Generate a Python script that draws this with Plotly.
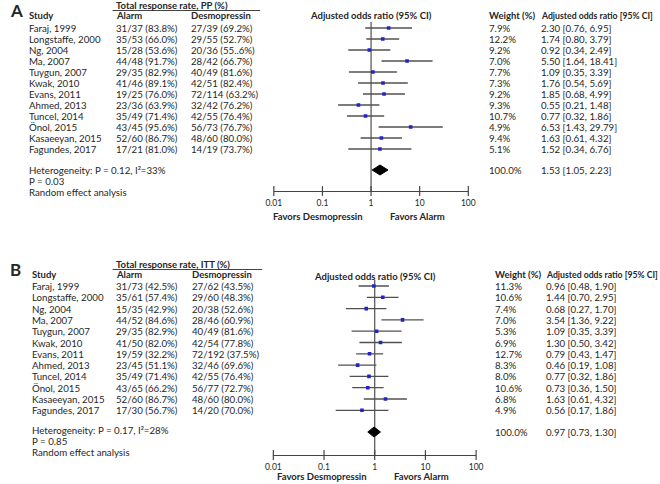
import plotly.graph_objects as go

# ---------------- data ----------------
studies = ["Faraj, 1999", "Longstaffe, 2000", "Ng, 2004", "Ma, 2007", "Tuygun, 2007",
           "Kwak, 2010", "Evans, 2011", "Ahmed, 2013", "Tuncel, 2014", "Önol, 2015",
           "Kasaeeyan, 2015", "Fagundes, 2017"]

pp_alarm = ["31/37 (83.8%)", "35/53 (66.0%)", "15/28 (53.6%)", "44/48 (91.7%)", "29/35 (82.9%)",
            "41/46 (89.1%)", "19/25 (76.0%)", "23/36 (63.9%)", "35/49 (71.4%)", "43/45 (95.6%)",
            "52/60 (86.7%)", "17/21 (81.0%)"]
pp_desmo = ["27/39 (69.2%)", "29/55 (52.7%)", "20/36 (55..6%)", "28/42 (66.7%)", "40/49 (81.6%)",
            "42/51 (82.4%)", "72/114 (63.2%)", "32/42 (76.2%)", "42/55 (76.4%)", "56/73 (76.7%)",
            "48/60 (80.0%)", "14/19 (73.7%)"]
pp_or = [2.30, 1.74, 0.92, 5.50, 1.09, 1.76, 1.85, 0.55, 0.77, 6.53, 1.63, 1.52]
pp_lo = [0.76, 0.80, 0.34, 1.64, 0.35, 0.54, 0.68, 0.21, 0.32, 1.43, 0.61, 0.34]
pp_hi = [6.95, 3.79, 2.49, 18.41, 3.39, 5.69, 4.99, 1.48, 1.86, 29.79, 4.32, 6.76]
pp_weight = ["7.9%", "12.2%", "9.2%", "7.0%", "7.7%", "7.3%", "9.2%", "9.3%", "10.7%", "4.9%", "9.4%", "5.1%"]
pp_total = [1.53, 1.05, 2.23]
pp_total_weight = "100.0%"
pp_notes = ["Heterogeneity: P = 0.12, I²=33%", "P = 0.03", "Random effect analysis"]

itt_alarm = ["31/73 (42.5%)", "35/61 (57.4%)", "15/35 (42.9%)", "44/52 (84.6%)", "29/35 (82.9%)",
             "41/50 (82.0%)", "19/59 (32.2%)", "23/45 (51.1%)", "35/49 (71.4%)", "43/65 (66.2%)",
             "52/60 (86.7%)", "17/30 (56.7%)"]
itt_desmo = ["27/62 (43.5%)", "29/60 (48.3%)", "20/38 (52.6%)", "28/46 (60.9%)", "40/49 (81.6%)",
             "42/54 (77.8%)", "72/192 (37.5%)", "32/46 (69.6%)", "42/55 (76.4%)", "56/77 (72.7%)",
             "48/60 (80.0%)", "14/20 (70.0%)"]
itt_or = [0.96, 1.44, 0.68, 3.54, 1.09, 1.30, 0.79, 0.46, 0.77, 0.73, 1.63, 0.56]
itt_lo = [0.48, 0.70, 0.27, 1.36, 0.35, 0.50, 0.43, 0.19, 0.32, 0.36, 0.61, 0.17]
itt_hi = [1.90, 2.95, 1.70, 9.22, 3.39, 3.42, 1.47, 1.08, 1.86, 1.50, 4.32, 1.86]
itt_weight = ["11.3%", "10.6%", "7.4%", "7.0%", "5.3%", "6.9%", "12.7%", "8.3%", "8.0%", "10.6%", "6.8%", "4.9%"]
itt_total = [0.97, 0.73, 1.30]
itt_total_weight = "100.0%"
itt_notes = ["Heterogeneity: P = 0.17, I²=28%", "P = 0.85", "Random effect analysis"]

tick_vals = [0.01, 0.1, 1, 10, 100]
tick_text = ["0.01", "0.1", "1", "10", "100"]

# ---------------- figure ----------------
W, H = 660, 484
FONT = "Lato"
TXT = "#262626"
LINE = "#505050"
BLUE = "#2323c8"
FS = 9.7      # regular text size
FSB = 9.5     # bold text size
PADX = 1      # annotation inner padding compensation

fig = go.Figure()
annotations = []
shapes = []


def add_text(x, y, text, size=FS, bold=False, anchor="left"):
    xx = x - PADX if anchor == "left" else x
    annotations.append(dict(
        x=xx / W, y=1 - y / H, xref="paper", yref="paper",
        text=("<b>%s</b>" % text) if bold else text,
        showarrow=False, xanchor=anchor, yanchor="middle", borderpad=0,
        font=dict(family=FONT, size=size, color=TXT)))


def panel(letter, top, title, alarm, desmo, orv, lo, hi, weights, total, total_w, notes,
          xname, yname, axis_y, row0, step, tbl, note_y, note_step, tot_y, one_x, fav_y):
    add_text(2, top + 10, letter, size=17, bold=True)
    add_text(tbl["alarm"], top + 5, title, size=FSB, bold=True)
    shapes.append(dict(type="line", xref="paper", yref="paper",
                       x0=(tbl["alarm"] - 3) / W, x1=tbl["uline"] / W,
                       y0=1 - (top + 10.5) / H, y1=1 - (top + 10.5) / H,
                       line=dict(color="#444", width=1)))
    hy = top + 15.5
    add_text(tbl["study"], hy, "Study", size=FSB, bold=True)
    add_text(tbl["alarm"], hy, "Alarm", size=FSB, bold=True)
    add_text(tbl["desmo"], hy, "Desmopressin", size=FSB, bold=True)
    add_text(tbl["forest_c"], hy + tbl.get("fh", 0), "Adjusted odds ratio (95% CI)", size=FSB,
             bold=True, anchor="center")
    add_text(tbl["weight"], hy, "Weight (%)", size=FSB, bold=True)
    add_text(tbl["orc"], hy, "Adjusted odds ratio [95% CI]", size=8.7, bold=True)

    ys = [row0 + step * i for i in range(len(studies))]
    for i, s in enumerate(studies):
        add_text(tbl["study"], ys[i], s)
        add_text(tbl["alarm"], ys[i], alarm[i])
        add_text(tbl["desmo"], ys[i], desmo[i])
        add_text(tbl["weight"], ys[i], weights[i])
        add_text(tbl["orc"], ys[i], "%.2f [%.2f, %.2f]" % (orv[i], lo[i], hi[i]))
    add_text(tbl["weight"], tot_y, total_w)
    add_text(tbl["orc"], tot_y, "%.2f [%.2f, %.2f]" % tuple(total))
    for k, n in enumerate(notes):
        add_text(tbl["study"], note_y + note_step * k, n)

    # reference line at OR = 1
    fig.add_trace(go.Scatter(x=[1, 1], y=[ys[0] - 6, axis_y], mode="lines",
                             line=dict(color=LINE, width=1.2), xaxis=xname, yaxis=yname,
                             hoverinfo="skip", showlegend=False))
    # CI lines
    cx, cy = [], []
    for i in range(len(studies)):
        cx += [lo[i], hi[i], None]
        cy += [ys[i], ys[i], None]
    fig.add_trace(go.Scatter(x=cx, y=cy, mode="lines", line=dict(color=LINE, width=1.3),
                             xaxis=xname, yaxis=yname, showlegend=False, hoverinfo="skip"))
    fig.add_trace(go.Scatter(x=orv, y=ys, mode="markers",
                             marker=dict(symbol="square", size=3.6, color=BLUE),
                             xaxis=xname, yaxis=yname, showlegend=False))
    # summary diamond
    e, l, h = total
    fig.add_trace(go.Scatter(x=[l, e, h, e, l], y=[tot_y, tot_y - 5, tot_y, tot_y + 5, tot_y],
                             mode="lines", fill="toself", fillcolor="black",
                             line=dict(color="black", width=1), xaxis=xname, yaxis=yname,
                             showlegend=False, hoverinfo="skip"))
    # tick crosses
    fig.add_trace(go.Scatter(x=tick_vals, y=[axis_y] * len(tick_vals), mode="markers",
                             marker=dict(symbol="line-ns", size=7, line=dict(color="#444", width=1.2)),
                             xaxis=xname, yaxis=yname, showlegend=False, hoverinfo="skip",
                             cliponaxis=False))
    add_text(one_x - 54, fav_y, "Favors Desmopressin", size=FSB, bold=True, anchor="center")
    add_text(one_x + 48, fav_y, "Favors Alarm", size=FSB, bold=True, anchor="center")


A_AXIS, B_AXIS = 191, 455
A_DOM, B_DOM = (272, 471), (271.5, 479)

panel("A", 0, "Total response rate, PP (%)", pp_alarm, pp_desmo, pp_or, pp_lo, pp_hi, pp_weight,
      pp_total, pp_total_weight, pp_notes, "x", "y", A_AXIS, 28, 11.0,
      dict(study=21, alarm=110, desmo=187, forest_c=371, weight=492, orc=545, uline=258),
      note_y=170, note_step=11.0, tot_y=170, one_x=371, fav_y=216)
panel("B", 259, "Total response rate, ITT (%)", itt_alarm, itt_desmo, itt_or, itt_lo, itt_hi, itt_weight,
      itt_total, itt_total_weight, itt_notes, "x2", "y2", B_AXIS, 286, 11.3,
      dict(study=25, alarm=110, desmo=188, forest_c=376, weight=498, orc=550, uline=260, fh=2),
      note_y=430, note_step=11.0, tot_y=432, one_x=375, fav_y=476.5)


def xaxis_cfg(dom, yname):
    return dict(type="log", range=[-2, 2], domain=[dom[0] / W, dom[1] / W], anchor=yname,
                showline=True, linecolor="#444", linewidth=1.2,
                tickvals=tick_vals, ticktext=tick_text, ticks="", showgrid=False, zeroline=False,
                tickfont=dict(family=FONT, size=8.5, color=TXT), ticklabelstandoff=4,
                fixedrange=True)


fig.update_layout(
    width=W, height=H, margin=dict(l=0, r=0, t=0, b=0),
    paper_bgcolor="white", plot_bgcolor="white",
    xaxis=xaxis_cfg(A_DOM, "y"),
    xaxis2=xaxis_cfg(B_DOM, "y2"),
    yaxis=dict(range=[A_AXIS, 0], domain=[1 - A_AXIS / H, 1], visible=False, fixedrange=True,
               anchor="x"),
    yaxis2=dict(range=[B_AXIS, 250], domain=[1 - B_AXIS / H, 1 - 250 / H], visible=False,
                fixedrange=True, anchor="x2"),
    annotations=annotations, shapes=shapes, showlegend=False,
)

# the page's default 8px body margin would offset the 660x484 figure inside the window
fig.write_html("out.html", config={"displayModeBar": False},
               post_script="document.body.style.margin='0';")
